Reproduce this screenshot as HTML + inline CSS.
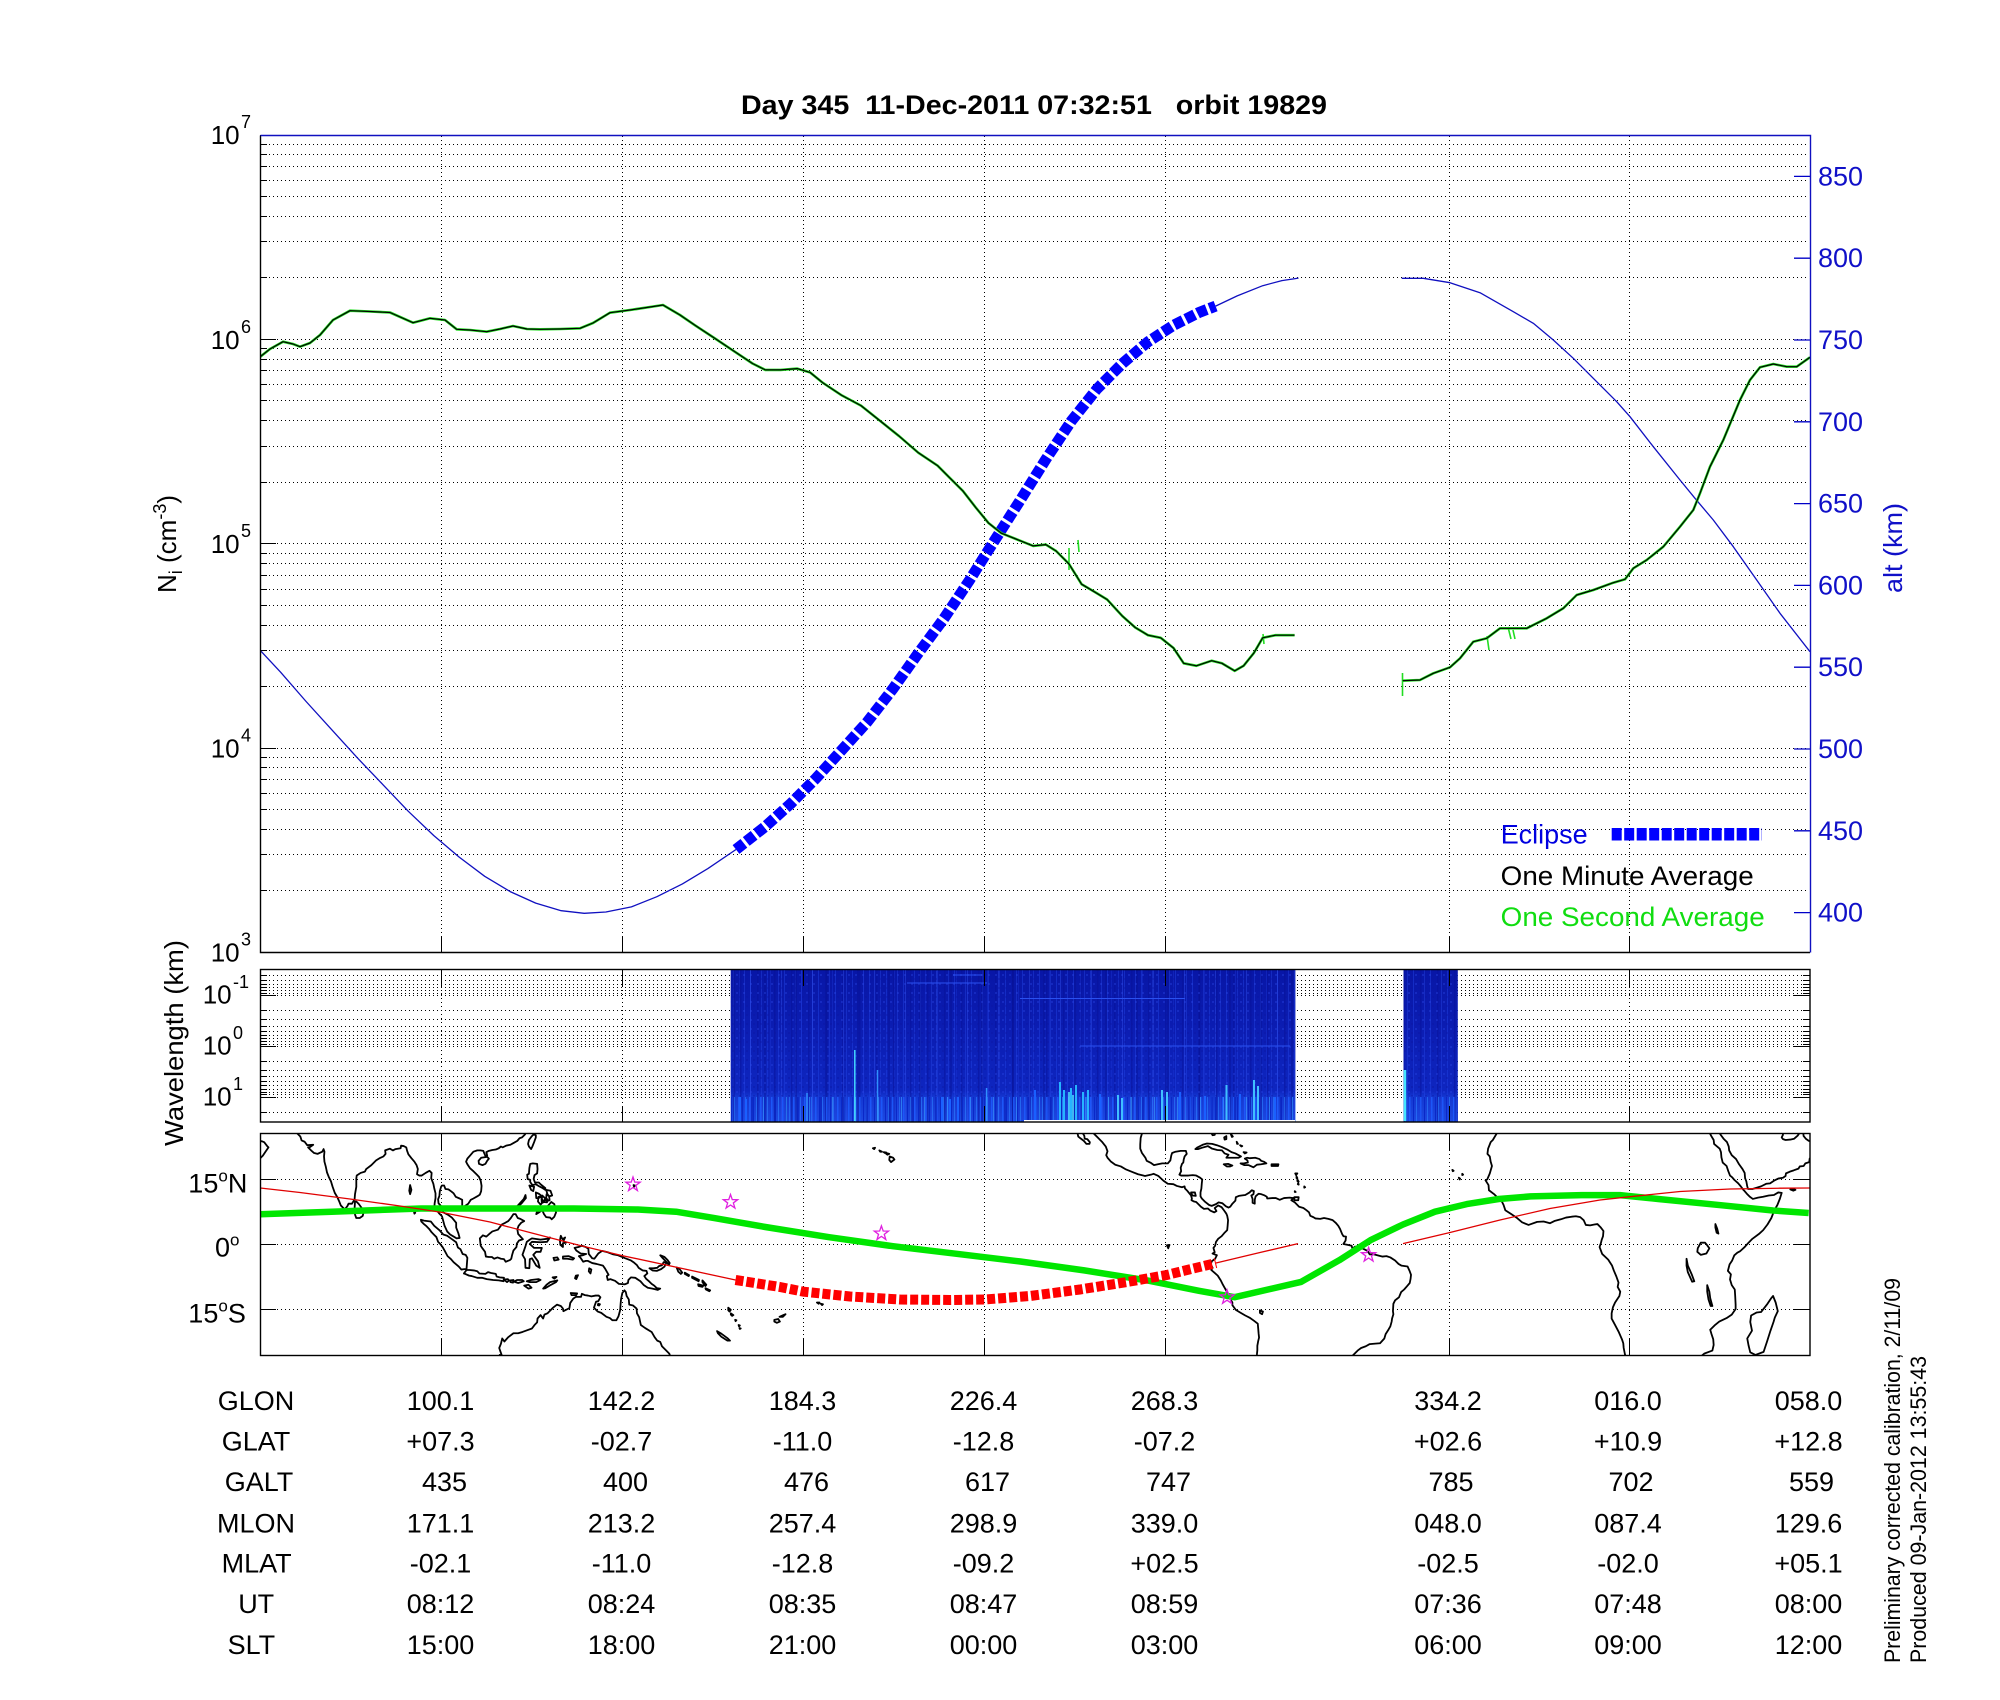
<!DOCTYPE html>
<html><head><meta charset="utf-8"><style>
html,body{margin:0;padding:0;background:#fff;}
svg{display:block;}
text{font-family:"Liberation Sans",Arial,sans-serif;}
.coast path{vector-effect:non-scaling-stroke;}
</style></head><body>
<svg width="2000" height="1700" viewBox="0 0 2000 1700" xmlns="http://www.w3.org/2000/svg">
<defs>
<clipPath id="mainclip"><rect x="260.5" y="135.5" width="1549.5" height="817"/></clipPath>
<clipPath id="mapclip"><rect x="261" y="1134" width="1548.5" height="221"/></clipPath>
<linearGradient id="sg" x1="0" y1="0" x2="0" y2="1">
<stop offset="0" stop-color="#0816a6"/><stop offset="0.45" stop-color="#0c1eb4"/><stop offset="0.8" stop-color="#0e26c0"/><stop offset="0.84" stop-color="#1438d2"/><stop offset="1" stop-color="#1c48e0"/>
</linearGradient>
<pattern id="p1" width="17" height="200" patternUnits="userSpaceOnUse"><rect x="2" width="1" height="200" fill="#2040e0" opacity=".5"/><rect x="9" width="1.5" height="200" fill="#061098" opacity=".45"/><rect x="13" width="1" height="200" fill="#2a4cec" opacity=".35"/></pattern>
<pattern id="p2" width="31" height="200" patternUnits="userSpaceOnUse"><rect x="6" width="1" height="200" fill="#3456f2" opacity=".4"/><rect x="20" width="2" height="200" fill="#060e90" opacity=".35"/><rect x="26" width="1" height="200" fill="#1c34d4" opacity=".4"/></pattern>
<pattern id="p5" width="7" height="9" patternUnits="userSpaceOnUse"><rect x="1" y="2" width="2" height="2" fill="#2a48e6" opacity=".35"/><rect x="4" y="6" width="2" height="2" fill="#0a14a0" opacity=".35"/></pattern>
<pattern id="p3" width="11" height="40" patternUnits="userSpaceOnUse"><rect x="1" width="1.5" height="40" fill="#1e5cff" opacity=".8"/><rect x="5" width="1" height="40" fill="#0a28c8"/><rect x="8" width="1" height="40" fill="#2c80ff" opacity=".6"/></pattern>
<pattern id="p4" width="23" height="40" patternUnits="userSpaceOnUse"><rect x="4" width="1" height="40" fill="#3aa0ff" opacity=".6"/><rect x="15" width="2" height="40" fill="#0c24c0" opacity=".7"/></pattern>
</defs>
<rect width="2000" height="1700" fill="#fff"/>

<!-- Title -->
<text x="741" y="114" font-size="27" font-weight="bold" style="white-space:pre" xml:space="preserve" textLength="586" lengthAdjust="spacingAndGlyphs">Day 345  11-Dec-2011 07:32:51   orbit 19829</text>

<!-- ===== MAIN PLOT ===== -->
<g stroke="#000" stroke-width="1" stroke-dasharray="1 3" shape-rendering="crispEdges" fill="none">
<path d="M261 144.5H1809M261 154.5H1809M261 166.5H1809M261 180.5H1809M261 196.5H1809M261 216.5H1809M261 241.5H1809M261 277.5H1809M261 339.5H1809M261 348.5H1809M261 359.5H1809M261 370.5H1809M261 384.5H1809M261 400.5H1809M261 420.5H1809M261 446.5H1809M261 482.5H1809M261 543.5H1809M261 553.5H1809M261 563.5H1809M261 575.5H1809M261 589.5H1809M261 605.5H1809M261 625.5H1809M261 650.5H1809M261 686.5H1809M261 748.5H1809M261 757.5H1809M261 767.5H1809M261 779.5H1809M261 793.5H1809M261 809.5H1809M261 829.5H1809M261 854.5H1809M261 890.5H1809"/>
<path d="M441.5 136V952M622.5 136V952M803.5 136V952M984.5 136V952M1165.5 136V952M1449.5 136V952M1629.5 136V952"/>
</g>
<!-- left ticks -->
<g stroke="#000" stroke-width="1.2" shape-rendering="crispEdges" fill="none">
<path d="M260 144.5h7M260 154.5h7M260 166.5h7M260 180.5h7M260 196.5h7M260 216.5h7M260 241.5h7M260 277.5h7M260 348.5h7M260 359.5h7M260 370.5h7M260 384.5h7M260 400.5h7M260 420.5h7M260 446.5h7M260 482.5h7M260 553.5h7M260 563.5h7M260 575.5h7M260 589.5h7M260 605.5h7M260 625.5h7M260 650.5h7M260 686.5h7M260 757.5h7M260 767.5h7M260 779.5h7M260 793.5h7M260 809.5h7M260 829.5h7M260 854.5h7M260 890.5h7"/>
<path d="M260 135.5h16M260 339.5h16M260 543.5h16M260 748.5h16"/>
<path d="M441.5 952V936M622.5 952V936M803.5 952V936M984.5 952V936M1165.5 952V936M1449.5 952V936M1629.5 952V936"/>
</g>
<!-- right alt ticks -->
<g stroke="#0000c8" stroke-width="1.3" fill="none">
<path d="M1810 176.4h-16M1810 258.2h-16M1810 340h-16M1810 421.8h-16M1810 503.6h-16M1810 585.4h-16M1810 667.2h-16M1810 749h-16M1810 830.8h-16M1810 912.6h-16"/>
</g>

<g clip-path="url(#mainclip)" fill="none" stroke-linejoin="round">
<!-- altitude thin blue -->
<polyline stroke="#1010c0" stroke-width="1.3" points="260.3,650.5 280.6,672.2 306.1,701.5 331.6,729.6 357.1,757.6 382.7,784.4 408.2,811.2 433.7,835.5 459.2,857.1 484.7,876.3 510.2,891.6 535.7,903.1 561.2,910.7 584.2,913.3 605.9,912 631.4,906.9 656.9,896.7 682.4,883.9 707.9,868.6 736,849.5"/>
<polyline stroke="#1010c0" stroke-width="1.3" points="1215.6,306.1 1237.2,295.9 1262.7,285.7 1281.9,280.6 1298.5,278.1"/>
<polyline stroke="#1010c0" stroke-width="1.3" points="1401.7,278.3 1423.3,278.3 1450,282.7 1480,292.7 1513.3,311.7 1533.3,323.3 1553.3,340 1573.3,358.3 1596.7,381.7 1616.7,401.7 1630,416.7 1653.3,446.7 1680,480 1695,498.3 1713.3,520 1733.3,546.7 1756.7,580 1780,613.3 1810,651.7"/>
<!-- eclipse -->
<polyline stroke="#0000ff" stroke-width="11" stroke-dasharray="10 3" stroke-linejoin="miter" points="736,849.5 765.3,826.5 790.8,803.6 816.3,778 841.8,750 867.3,721.9 892.9,688.8 918.4,653 943.9,618.6 969.4,580.4 988.5,550 1020.4,500 1045.9,459.2 1071.4,420.9 1096.9,389 1122.4,363.5 1148,341.8 1173.5,325.3 1199,312.5 1215.6,306.1"/>
<!-- one second (green) -->
<g stroke="#22dd22" stroke-width="2.6">
<polyline points="260.3,356.7 270,349 283,341.7 293,344 300,346.7 310,343 320,335 333,320 350,310.7 370,311.5 390,312.5 413,322.7 430,318.3 445,320 456.7,329.3 470,330 486.7,331.7 500,329 513,326 527,329 540,329.3 560,329 580,328.3 593,323 610,312.7 630,310 650,307 663,305 680,315 695,325.3 714.3,338 733.4,350.8 752.5,363.5 765.3,369.9 780.6,369.9 797.2,368.6 810,372.4 822.7,382.7 841.8,395.4 861,405.6 880.1,420.9 899.2,436.2 918.4,452.8 937.5,465.6 950.2,478.3 963,491.1 975.8,507.6 988.5,523 1001.3,533.2 1020.4,540.8 1033.2,545.9 1045.9,544.6 1056.1,551 1068.9,563.8 1081.6,584.2 1094.4,591.8 1107.1,599.5 1122.4,616.1 1135.2,627.5 1148,635.2 1160.7,637.8 1173.5,648 1183.7,663.3 1196.4,665.8 1211.7,660.7 1221.9,663.3 1234.7,670.9 1243.6,665.8 1253.8,653.1 1262.7,637.8 1275.5,635.2 1294.6,635.2"/>
<polyline points="1402.7,680.7 1420,680 1433.3,673.3 1450,667.3 1460,658.3 1473.3,641.7 1486.7,638.3 1500,628.3 1513.3,628.3 1526.7,628.3 1546.7,618.3 1563.3,608.3 1576.7,595 1593.3,590 1613.3,582.7 1625,579.3 1633.3,568.3 1646.7,560 1663.3,546.7 1680,526.7 1693.3,510 1700,493.3 1710,466.7 1723.3,440 1740,400 1750,380 1760,367.3 1773.3,364 1786.7,366.7 1796.7,366.7 1810,357.3"/>
<path stroke-width="1.6" d="M1402.5 673V696M1487 636l2 14M1508 627l3 12M1513 630l2 9M1069 548V570M1263 634l1 10M1078 540l1 12"/>
</g>
<!-- one minute (black) -->
<g stroke="#000" stroke-width="1.2">
<polyline points="260.3,356.7 270,349 283,341.7 293,344 300,346.7 310,343 320,335 333,320 350,310.7 370,311.5 390,312.5 413,322.7 430,318.3 445,320 456.7,329.3 470,330 486.7,331.7 500,329 513,326 527,329 540,329.3 560,329 580,328.3 593,323 610,312.7 630,310 650,307 663,305 680,315 695,325.3 714.3,338 733.4,350.8 752.5,363.5 765.3,369.9 780.6,369.9 797.2,368.6 810,372.4 822.7,382.7 841.8,395.4 861,405.6 880.1,420.9 899.2,436.2 918.4,452.8 937.5,465.6 950.2,478.3 963,491.1 975.8,507.6 988.5,523 1001.3,533.2 1020.4,540.8 1033.2,545.9 1045.9,544.6 1056.1,551 1068.9,563.8 1081.6,584.2 1094.4,591.8 1107.1,599.5 1122.4,616.1 1135.2,627.5 1148,635.2 1160.7,637.8 1173.5,648 1183.7,663.3 1196.4,665.8 1211.7,660.7 1221.9,663.3 1234.7,670.9 1243.6,665.8 1253.8,653.1 1262.7,637.8 1275.5,635.2 1294.6,635.2"/>
<polyline points="1402.7,680.7 1420,680 1433.3,673.3 1450,667.3 1460,658.3 1473.3,641.7 1486.7,638.3 1500,628.3 1513.3,628.3 1526.7,628.3 1546.7,618.3 1563.3,608.3 1576.7,595 1593.3,590 1613.3,582.7 1625,579.3 1633.3,568.3 1646.7,560 1663.3,546.7 1680,526.7 1693.3,510 1700,493.3 1710,466.7 1723.3,440 1740,400 1750,380 1760,367.3 1773.3,364 1786.7,366.7 1796.7,366.7 1810,357.3"/>
</g>
</g>

<!-- main frame -->
<path d="M260.5 135.5V952.5H1810" stroke="#000" stroke-width="1.4" fill="none"/>
<path d="M260.5 135.5H1810.5V952.5" stroke="#1010c0" stroke-width="1.4" fill="none"/>

<!-- left tick labels -->
<g font-size="26" fill="#000">
<text x="210.7" y="144">10</text><text x="241" y="128" font-size="18">7</text>
<text x="210.7" y="349">10</text><text x="241" y="333" font-size="18">6</text>
<text x="210.7" y="553">10</text><text x="241" y="537" font-size="18">5</text>
<text x="210.7" y="757.5">10</text><text x="241" y="741.5" font-size="18">4</text>
<text x="210.7" y="961.5">10</text><text x="241" y="945.5" font-size="18">3</text>
</g>
<!-- right alt labels -->
<g font-size="27" fill="#1010c8">
<text x="1818" y="185.4">850</text><text x="1818" y="267.2">800</text><text x="1818" y="349">750</text><text x="1818" y="430.8">700</text><text x="1818" y="512.6">650</text><text x="1818" y="594.4">600</text><text x="1818" y="676.2">550</text><text x="1818" y="758">500</text><text x="1818" y="839.8">450</text><text x="1818" y="921.6">400</text>
</g>
<text transform="translate(1902,548) rotate(-90)" text-anchor="middle" font-size="26" fill="#1010c8" textLength="90" lengthAdjust="spacingAndGlyphs">alt (km)</text>
<text transform="translate(176,593) rotate(-90)" font-size="26" fill="#000">N<tspan font-size="18" dy="6">i</tspan><tspan dy="-6"> (cm</tspan><tspan font-size="18" dy="-10">-3</tspan><tspan dy="10">)</tspan></text>

<!-- legend -->
<text x="1500.7" y="843.3" font-size="27" fill="#0000e0" textLength="87" lengthAdjust="spacingAndGlyphs">Eclipse</text>
<path d="M1611.7 834.3H1762" stroke="#0000ff" stroke-width="12.5" stroke-dasharray="10 2.5"/>
<text x="1500.7" y="885" font-size="27" fill="#000" textLength="253" lengthAdjust="spacingAndGlyphs">One Minute Average</text>
<text x="1500.7" y="926" font-size="27" fill="#11dd11" textLength="264" lengthAdjust="spacingAndGlyphs">One Second Average</text>

<!-- ===== WAVELENGTH PANEL ===== -->
<g stroke="#000" stroke-width="1" stroke-dasharray="1 3" shape-rendering="crispEdges" fill="none">
<path d="M261 975.5H1809M261 980.5H1809M261 984.5H1809M261 987.5H1809M261 990.5H1809M261 993.5H1809M261 995.5H1809M261 1010.5H1809M261 1019.5H1809M261 1026.5H1809M261 1031.5H1809M261 1035.5H1809M261 1038.5H1809M261 1041.5H1809M261 1044.5H1809M261 1046.5H1809M261 1061.5H1809M261 1070.5H1809M261 1076.5H1809M261 1081.5H1809M261 1085.5H1809M261 1089.5H1809M261 1092.5H1809M261 1094.5H1809M261 1097.5H1809M261 1112.5H1809"/>
<path d="M441.5 970V1121M622.5 970V1121M803.5 970V1121M984.5 970V1121M1165.5 970V1121M1449.5 970V1121M1629.5 970V1121"/>
</g>
<!-- spectrogram block 1 -->
<rect x="730.7" y="969.5" width="564.7" height="152" fill="url(#sg)"/>
<rect x="730.7" y="969.5" width="564.7" height="152" fill="url(#p1)"/>
<rect x="730.7" y="969.5" width="564.7" height="152" fill="url(#p2)"/>
<rect x="730.7" y="969.5" width="564.7" height="127" fill="url(#p5)"/>
<rect x="730.7" y="1097" width="564.7" height="24.5" fill="url(#p3)"/>
<rect x="730.7" y="1097" width="564.7" height="24.5" fill="url(#p4)"/>
<g stroke-width="1.5">
<path stroke="#44d8ff" d="M854.8 1050V1121"/>
<path stroke="#3090ff" d="M877.5 1070V1121M986.6 1088V1121M807 1093V1121"/>
<path stroke="#26b4ff" stroke-width="2" d="M1060 1082V1121M1064 1090V1121M1071 1088V1121M1076 1085V1121M1083 1092V1121M1088 1090V1121"/>
<path stroke="#50e4ff" d="M1069 1092V1121M1073 1095V1121"/>
<path stroke="#40c0ff" stroke-width="2" d="M1118 1095V1121M1122 1098V1121M1162 1090V1121M1167 1092V1121M1226.5 1085V1121M1254 1080V1121M1258 1086V1121"/>
<path stroke="#1a60ff" stroke-width="2" d="M740 1097V1121M746 1099V1121M942 1097V1121M950 1099V1121M958 1097V1121M1035 1090V1121M1100 1094V1121M1180 1092V1121M1205 1096V1121M1240 1094V1121M1275 1097V1121"/>
<path stroke="#2a50f0" stroke-width="1" d="M953 975H982M907 983H987M1020 998.5H1185M1080 1046H1290"/>
</g>
<rect x="1024" y="1120" width="271" height="1.8" fill="#fff"/>
<!-- spectrogram block 2 -->
<rect x="1403.5" y="969.5" width="54.3" height="152" fill="url(#sg)"/>
<rect x="1403.5" y="969.5" width="54.3" height="152" fill="url(#p1)"/>
<rect x="1403.5" y="969.5" width="54.3" height="127" fill="url(#p5)"/>
<rect x="1403.5" y="1097" width="54.3" height="24.5" fill="url(#p3)"/>
<path stroke="#44e4ff" stroke-width="2.5" d="M1405 1070V1121"/>
<!-- ticks wavelength -->
<g stroke="#000" stroke-width="1.2" shape-rendering="crispEdges" fill="none">
<path d="M260 975.5h7M260 980.5h7M260 984.5h7M260 987.5h7M260 990.5h7M260 993.5h7M260 1010.5h7M260 1019.5h7M260 1026.5h7M260 1031.5h7M260 1035.5h7M260 1038.5h7M260 1041.5h7M260 1044.5h7M260 1061.5h7M260 1070.5h7M260 1076.5h7M260 1081.5h7M260 1085.5h7M260 1089.5h7M260 1092.5h7M260 1094.5h7M260 1112.5h7M260 995.5h16M260 1046.5h16M260 1097.5h16"/>
<path d="M1810 975.5h-7M1810 980.5h-7M1810 984.5h-7M1810 987.5h-7M1810 990.5h-7M1810 993.5h-7M1810 1010.5h-7M1810 1019.5h-7M1810 1026.5h-7M1810 1031.5h-7M1810 1035.5h-7M1810 1038.5h-7M1810 1041.5h-7M1810 1044.5h-7M1810 1061.5h-7M1810 1070.5h-7M1810 1076.5h-7M1810 1081.5h-7M1810 1085.5h-7M1810 1089.5h-7M1810 1092.5h-7M1810 1094.5h-7M1810 1112.5h-7M1810 995.5h-16M1810 1046.5h-16M1810 1097.5h-16"/>
<path d="M441.5 970v16M622.5 970v16M803.5 970v16M984.5 970v16M1165.5 970v16M1449.5 970v16M1629.5 970v16M441.5 1122v-16M622.5 1122v-16M803.5 1122v-16M984.5 1122v-16M1165.5 1122v-16M1449.5 1122v-16M1629.5 1122v-16"/>
</g>
<rect x="260.5" y="969.5" width="1549.5" height="152.5" fill="none" stroke="#000" stroke-width="1.4"/>
<g font-size="26" fill="#000">
<text x="202.7" y="1003.5">10</text><text x="233" y="988" font-size="18">-1</text>
<text x="202.7" y="1054.5">10</text><text x="233" y="1039" font-size="18">0</text>
<text x="202.7" y="1105.5">10</text><text x="233" y="1090" font-size="18">1</text>
</g>
<text transform="translate(183,1043) rotate(-90)" text-anchor="middle" font-size="26" fill="#000" textLength="206" lengthAdjust="spacingAndGlyphs">Wavelength (km)</text>

<!-- ===== MAP PANEL ===== -->
<g stroke="#000" stroke-width="1" stroke-dasharray="1 3" shape-rendering="crispEdges" fill="none">
<path d="M261 1179.5H1809M261 1244.5H1809M261 1309.5H1809"/>
<path d="M441.5 1134V1355M622.5 1134V1355M803.5 1134V1355M984.5 1134V1355M1165.5 1134V1355M1449.5 1134V1355M1629.5 1134V1355"/>
</g>
<g clip-path="url(#mapclip)">
<g transform="matrix(4.305 0 0 -4.333 11.04 1244)" fill="none" stroke="#000" stroke-width="1.8" stroke-linejoin="round" class="coast">
<g id="cst">
<path d="M-14.4 26.5 -14.9 25.5 -15.8 24 -16.3 23.5 -16.9 22 -17.05 20.8 -16.5 20.2 -16.3 19 -16 18 -16.5 16.3 -17.1 14.9 -17.5 14.7 -16.8 13.6 -16.7 12.4 -15.5 11.5 -14.7 10.7 -13.7 9.8 -13.3 9 -12.9 7.8 -11.5 6.9 -10.3 6.1 -9 5 -7.5 4.4 -5.5 5.1 -4 5.2 -2.5 4.8 -1.5 5.3 0 5.7 1.2 6.1 2.5 6.3 3.5 6.4 4.5 6.2 5.3 5.5 5.8 4.4 6.8 4.3 7.8 4.5 8.5 4.6 9.2 3.9 9.9 3 9.8 1.8 9.5 1 9.3 0.2 9 -0.7 9.6 -2.3 11 -3.6 11.9 -5 12.3 -6.1 12.9 -7.5 13.4 -8.9 13.2 -9.9 13.8 -11 13.6 -12 12.6 -13.5 12.1 -14.6 11.8 -16 11.8 -17.2 12.5 -18.5 13.4 -20.2 14.2 -22 14.5 -22.9 14.6 -24 14.9 -25.5 15.2 -26.7 15.3 -27.5"/>
<path d="M32.8 -27 32.9 -26.2 32.6 -25.9 33.3 -25.3 35.2 -24.6 35.5 -23.3 35.4 -22 35 -20.8 34.7 -19.8 35.7 -18.8 36.8 -17.9 38.5 -17.1 39.7 -16.3 40.6 -15 40.6 -14 40.5 -12 40.4 -10.5 39.7 -9.5 39.3 -8.2 39.5 -7 38.8 -6.2 39.2 -4.7 39.8 -3.8 40.3 -2.6 41 -2 41.6 -1.7 42.6 -0.8 43.6 0.3 44.5 1.2 46 2.3 47 3.2 48 4.5 48.9 6 49.6 7.8 50.3 9 50.9 10.5 51.3 11.8 50.5 11.9 49.5 11.3 48.3 11.2 47 10.9 45.8 10.7 44.6 10.4 43.9 10.9 43.2 11.6 42.7 12.2 42.4 12.5 41.8 13.3 41.2 14 40.3 14.8 39.8 15.4 39.3 15.8 38.9 16.8 38.5 18 37.6 18.8 37.3 20 37.2 21.2 36.9 22 35.6 23.1 35.5 24 34.9 25 34.4 26 33.9 27"/>
<path d="M35 28 35.5 27.5 36.6 26 37.2 25.1 37.8 24.3 38.6 23.5 39 22.5 39.1 21.6 39.7 20.5 40.7 19.6 41.4 18.4 42.2 17.3 42.7 16.4 42.8 15.2 43.1 14.4 43.3 13.3 43.5 12.7 44.5 12.7 45.2 12.9 46.5 13.3 47.7 13.9 48.6 14 49.5 14.6 50.5 15.1 51.6 15.3 52.2 15.7 52.3 16.3 53.2 16.7 54.1 17 55.2 17.4 55.5 17.9 56.4 18 56.8 18.6 57.7 18.9 57.8 19.7 58.5 20.4 59.1 21.3 59.8 22.3 59.5 22.6 58.8 23.5 58.3 23.7 57.6 23.8 56.9 24.3 56.4 24.9 56.3 25.6 56.1 26.3M55.7 26 55 25 54.2 24.3 53.3 24.1 52.2 24 51.6 24.2 51.3 24.6 51.6 25.2 51.5 25.9 51.2 26.2"/>
<path d="M53.3 12.6 54.2 12.7 54.5 12.5 54 12.3Z"/>
<path d="M49.3 -12 49.9 -13.5 50.4 -15.5 49.7 -17 49.4 -18 48.7 -20 47.9 -22.5 47.1 -24.9 45.2 -25.6 44 -25 43.6 -23.4 43.3 -21.8 44.4 -20 44 -18 44.2 -16.5 45.5 -15.8 46.5 -15.7 47.3 -14.7 48 -13.8 48.8 -12.6Z"/>
<path d="M31.8 -1 32.5 0.3 33.5 0.3 34 -0.3 34.5 -1 33.8 -2.2 32.5 -2.5 31.7 -1.8ZM29.2 -3.4 29.5 -5 30.4 -7 31 -8.6 30.5 -8.7 29.5 -6.5 29.2 -5ZM34 -9.5 34.5 -11 34.7 -12.5 35.2 -14.3 34.8 -14.3 34.3 -12.8 34 -11ZM35.9 4.6 36.3 3.6 36.6 2.4 36.2 2.6 35.9 3.8Z"/>
<path d="M-23.7 15.3 -23.4 15.1 -23.5 14.9ZM-25.2 17.1 -24.9 16.9 -25.1 16.8ZM-22.9 16.2 -22.7 16 -22.9 15.9Z"/>
<path d="M66.5 25.5 67.2 24.8 67.5 23.9 68.2 23.6 68.8 22.8 70.2 22.9 69.5 22.4 69 22.3 69.7 21.6 70.4 21 71.2 20.8 72.3 21.3 72.6 21.9 72.8 21.3 72.7 20.2 72.8 19 73.1 17.9 73.4 16.5 73.8 15.5 74.3 14.5 74.7 13.2 75.2 11.8 75.8 10.8 76.2 9.9 76.6 8.9 77.3 8.2 77.6 8.1 78.1 8.7 78.4 9.3 79.2 9.3 79.8 10.3 79.9 11.5 80.2 13.2 80.2 15.1 80.3 15.8 81.2 16.4 82.2 16.7 82.5 17.3 83.7 18.2 84.8 19.3 85.6 19.8 86.5 20.2 87 20.8 86.9 21.6 88 22 88.7 21.6 89.3 21.9 90.5 22.1 90.6 22.7 91.2 22.6 91.8 22.3 92 21.5 92.3 20.7 93 19.8 93.7 19 94.2 18.2 94.5 17.3 94.3 16.1 94.8 15.8 95.4 15.8 96.3 16.4 97.2 16.9 97.7 16.4 97.6 15.2 98.1 13.9 98.3 12.9 98.6 11.7 98.6 10.6 98.4 9.4 98.3 8.2 98.8 7.9 99.5 7 100.1 6.4 100.4 5.3 100.7 4.2 101.3 2.9 102 2.2 103 1.6 103.5 1.3 104.2 1.4 103.9 2.5 103.4 3.8 103.4 4.9 102.4 6.1 101.4 6.8 100.4 7.3 100.1 8.5 99.3 9.4 99.2 10.3 99.5 11.1 99.6 12.2 99.9 13.2 100.1 13.5 100.6 13.5 100.9 12.7 101.6 12.6 102.3 12.1 102.8 11.7 103.3 10.9 104.2 10.5 104.8 10.2 104.8 8.8 105.2 8.6 106.2 9.3 106.8 10.2 107.4 10.5 108.3 11 108.9 11.4 109.2 12.2 109.3 13.4 109.1 14.6 108.7 15.5 108.2 16 107.4 16.8 106.6 17.5 106 18.4 105.7 19 106 19.7 106.7 20.5 107.4 21.3 108.3 21.6 109 21.6 109.7 21.5 109.9 21 110.2 20.3 110.6 20.4 110.4 21.2 111 21.5 111.8 21.7 112.6 21.8 113.3 22.1 113.8 22.5 114.2 22.3 115 22.7 116 22.9 116.7 23.3 117.6 23.8 118.1 24.4 118.7 24.6 119.4 25.3 119.7 26.2"/>
<path d="M79.9 9.8 79.8 8.2 79.9 6.8 80.2 6 81 6 81.7 6.5 81.9 7.4 81.4 8.4 80.8 9.2 80.2 9.8Z"/>
<path d="M108.6 19.2 108.7 18.5 109.5 18.2 110.2 18.5 110.6 19.2 111 19.7 110.6 20.1 109.8 20 109.2 19.9Z"/>
<path d="M120.1 23.1 120.3 22.5 120.8 21.9 121.1 22.5 121.5 23.5 121.9 24.6 121.9 25.1 121.4 25.3 120.9 24.8 120.3 24Z"/>
<path d="M92.7 13.6 93 12.5 92.7 11.5 92.5 12.3ZM93.5 8 93.9 7.2 93.7 7Z"/>
<path d="M95.2 5.6 95.9 5.4 97.5 5.2 98.3 4.2 99.5 3.2 100.4 2.2 101.3 1.9 102.3 1.2 103.4 0.4 103.8 -0.8 104.4 -1.2 104.9 -2.3 105.6 -2.5 106 -3.2 105.9 -4.5 105.8 -5.8 105.3 -5.8 104.6 -5.9 104 -5.2 102.8 -4.2 102.2 -3.5 101.4 -2.8 100.8 -1.7 100.3 -0.8 99.7 0 99.2 0.5 98.8 1.6 98.2 2.2 97.7 2.7 97.1 3.5 96.4 4.2 95.8 4.7 95.3 5.2Z"/>
<path d="M105.2 -6.8 105.8 -6 106.5 -6 107.5 -6.1 108.3 -6.3 108.8 -6.8 110.2 -6.9 110.8 -6.5 111.5 -6.7 112.6 -6.9 112.8 -7.5 113.5 -7.7 114.5 -7.8 114.4 -8.6 113.3 -8.4 112 -8.3 110.5 -8.1 109.4 -7.8 108.3 -7.8 107 -7.4 106.4 -7.3 105.5 -6.9Z"/>
<path d="M114.5 -8.2 115.4 -8.1 115.7 -8.4 115.2 -8.8ZM116 -8.4 116.7 -8.3 116.6 -8.9 116 -8.8ZM116.8 -8.7 117.6 -8.3 118.7 -8.3 119.1 -8.6 118.5 -8.8 117.8 -9ZM119.8 -8.6 120.8 -8.3 122.5 -8.1 123 -8.3 122 -8.8 120.5 -8.8ZM119.2 -9.6 120.2 -9.4 120.9 -10.1 120.2 -10.3ZM123.6 -10.3 124.4 -9.4 125.2 -8.8 126.9 -8.4 126.6 -8.8 125.1 -9.6 124.1 -10.2ZM125.8 -7.7 126.7 -7.6 126.2 -8Z"/>
<path d="M119.5 -5.5 119.4 -3.5 118.8 -2.5 119.5 -0.5 119.8 0.5 120.5 1 121 1.3 123 1 124.5 1.2 125.2 1.5 124.5 0.5 123 0.4 121 0.5 120.5 0 121.5 -0.9 123.3 -0.9 123 -1.8 122 -1.8 121.3 -2.5 122.4 -4 122.8 -5.5 122 -5 121 -3.3 120.5 -3.5 120.4 -5.6Z"/>
<path d="M127.7 1.9 128.1 1.1 128.7 1.5 128.3 0.7 128.9 0.3 128.2 0.2 128.2 -0.7 127.6 -0.2 127.5 0.8ZM128.2 -2.9 129.5 -2.8 130.8 -3.3 130.5 -3.6 129.2 -3.4 128.2 -3.4ZM126 -3.2 126.9 -3.1 127.2 -3.6 126.2 -3.8ZM134.3 -5.6 134.8 -5.9 134.6 -6.8 134.2 -6.3ZM131.2 -7.3 131.7 -7.2 131.3 -8.1 131 -7.9Z"/>
<path d="M108.9 1.3 109.6 2 110.4 1.7 111.2 2.4 111.8 2.9 113.1 3.3 114 4.5 114.8 4.9 115.5 5.3 116.1 6 116.7 6.9 117.2 6.9 117.7 6 118.3 5.8 119.2 5.3 118.5 4.9 117.9 4.2 117.6 3.4 117.8 2.3 118.9 1.1 118 0.8 117.5 0.1 117.4 -0.7 116.7 -1.5 116.4 -2.5 116.2 -3.4 115.9 -3.7 114.9 -4.1 114.5 -3.5 113.8 -3.4 113 -3.1 112.2 -3.4 111.7 -3 111 -3 110.3 -2.9 110.1 -1.8 109.5 -1 109.1 -0.4 109 0.4Z"/>
<path d="M117.2 8.3 117.8 8.6 118.6 9.4 119.6 10.6 119.5 11.3 119.1 10.4 118.1 9.3Z"/>
<path d="M120.6 18.5 121.2 18.6 122.2 18.5 122.3 17.3 122.2 16.3 121.6 15.9 121.4 15 121.7 14.2 122.6 14.2 123.1 13.7 124.1 12.9 124.1 12.5 123.3 13 122.7 13.3 121.9 13.8 121.1 13.6 120.6 14.3 120.6 14.8 120 15 119.9 16 120.3 16.2 120.4 17.5Z"/>
<path d="M120.4 13.5 121.5 13.2 121.3 12.2 120.8 12.5ZM124.3 12.5 125.3 12.3 125.7 11.2 125 11 124.6 11.5ZM124.4 11.5 125 11 125.1 10.1 124.8 10 124.3 10.6ZM121.9 11.9 122.6 11.6 123.1 11.2 122.5 10.5 122 10.6ZM122.5 10.9 123.2 10.8 123.3 9.4 123 9.1 122.4 9.8ZM123.4 11.2 124.1 10.5 123.6 9.6 123.3 10.5ZM123.8 10.1 124.5 10.1 124.5 9.6 123.8 9.7Z"/>
<path d="M122 6.9 122.2 7.6 123 7.6 123.6 8.3 124.2 8.2 124.8 8.9 125.5 9.7 126.2 9.2 126.4 8.2 126.6 7.3 126.2 6.3 125.6 5.7 125.2 6.1 124.3 6.2 123.8 6.9 123.4 7.8 122.8 7.4Z"/>
<path d="M130.9 -0.9 131.8 -0.7 132.6 -0.4 133.5 -0.7 134.1 -1.1 134.2 -2.3 135 -3.3 135.5 -3.4 136.4 -2.2 137.3 -1.6 138.6 -1.9 139.9 -2.4 141 -2.6 142.7 -3.3 144 -3.8 144.6 -4.2 145.4 -4.9 145.8 -5.5 146.7 -6.1 147.6 -6.2 147.8 -6.8 147.1 -7.4 147.5 -8 148.3 -8.7 148.8 -9.2 149.4 -9.6 150 -10.2 150.8 -10.3 150.2 -10.6 149 -10.3 147.9 -10.1 147 -9.5 146.2 -8.6 145 -7.8 144 -7.7 143.4 -8.3 143.3 -9 142.6 -9.3 141.2 -9.2 140.3 -8.5 139.2 -8.1 138.6 -8.3 138.4 -7.4 138.8 -7.1 138 -5.7 137.5 -5 136 -4.6 135 -4.4 134 -3.9 133.5 -3.9 132.9 -4.1 132.3 -3.2 131.9 -2.8 132.8 -2.6 133.6 -2.3 132.3 -2.2 131.3 -1.5Z"/>
<path d="M148.3 -5.6 149.2 -5.6 150.1 -5.5 150.5 -5.1 151.2 -4.9 151.6 -4.2 152.2 -4.3 151.8 -5.2 151 -5.8 150 -6.2 149 -6.1ZM150.8 -2.6 151.8 -3 152.5 -3.7 153 -4.4 152.8 -4.8 152.2 -4.1 151.4 -3.3ZM154.6 -5.4 155.3 -5.8 155.9 -6.6 155.6 -6.9 155 -6.4Z"/>
<path d="M156.5 -6.6 157.5 -7.2 157.4 -7.4 156.5 -6.9ZM158.2 -7.5 159.8 -8.3 159.7 -8.6 158.2 -7.8ZM159.6 -9.3 160.8 -9.6 160.6 -9.9 159.7 -9.7ZM160.6 -8.4 161.5 -9.4 161.3 -9.7 160.6 -8.8ZM161.3 -10.2 162.4 -10.7 162.2 -10.9 161.4 -10.5Z"/>
<path d="M166.6 -14.7 167.2 -15.2 166.9 -15.6 166.6 -15.3ZM167.2 -16 167.8 -16.4 167.5 -16.6 167.2 -16.3ZM168.2 -17.5 168.5 -17.6 168.3 -17.8ZM169 -18.7 169.3 -18.8 169.1 -19ZM169.2 -19.4 169.5 -19.5 169.3 -19.6Z"/>
<path d="M164 -20.1 165 -20.7 166.5 -21.8 167 -22.3 166.4 -22.3 165 -21.4 164.2 -20.6ZM177.3 -17.5 178.2 -17.3 178.6 -17.9 177.9 -18.2 177.3 -17.9ZM178.5 -16.8 179.4 -16.4 179.9 -16.2 179.3 -16.8ZM144.6 13.6 144.9 13.5 144.7 13.2ZM-172.8 -13.5 -172.2 -13.5 -172.4 -13.8ZM-171.9 -13.8 -171.4 -13.9 -171.6 -14.1Z"/>
<path d="M-155.9 20.2 -155.1 19.9 -154.8 19.5 -155.6 18.9 -156 19.4ZM-156.7 21 -156 20.8 -156.4 20.6 -156.7 20.8ZM-157.3 21.2 -156.7 21.1 -157 21ZM-158.3 21.6 -157.7 21.3 -158.1 21.3ZM-159.8 22.1 -159.3 22.2 -159.5 21.9Z"/>
<path d="M113.4 -26.5 113.5 -25.6 114.1 -26 113.6 -24.6 113.4 -24 113.8 -23 114.1 -21.8 114.6 -22.5 115.5 -21.5 116.7 -20.6 117.8 -20.6 118.8 -20.3 119.6 -20 121 -19.5 121.6 -18.7 122.2 -18.1 122.3 -17.2 123 -16.4 123.6 -17.2 123.9 -16.3 124.6 -16 125.2 -15.4 125.9 -14.7 126.8 -14 127.7 -14.3 128.2 -14.9 128.3 -15.5 129.3 -15 129.7 -14.8 129.9 -13.6 130.6 -12.6 131.2 -12.2 132.4 -12.2 132.6 -11.5 133.3 -11.8 134 -11.9 134.8 -12.1 135.8 -11.9 136.5 -11.9 136.9 -12.3 136.4 -13.2 135.9 -13.3 135.4 -14.7 136.3 -15.6 137.1 -15.9 138.3 -16.8 139.1 -17.1 139.7 -17.6 140.6 -17.6 141.1 -16.7 141.5 -15.2 141.6 -13.8 141.7 -12.7 142 -11.3 142.5 -10.7 142.8 -11.1 143 -12 143.5 -12.8 143.6 -14 144.5 -14.2 145.3 -14.9 145.4 -16 145.9 -16.9 146.3 -18.7 147.3 -19.4 148.8 -20.3 149.5 -21.5 150.1 -22.3 150.8 -22.6 151.2 -23.6 152.1 -24.5 152.9 -25.3 153.2 -26.1"/>
<path d="M130 -11.3 131.5 -11.4 131.3 -11.8 130.2 -11.8ZM136.4 -13.8 136.8 -13.9 136.6 -14.2 136.3 -14.1Z"/>
<path d="M-112.8 26.5 -112.3 25.7 -112.1 24.8 -111.6 24.4 -110.8 23.8 -110.2 23.1 -109.5 23.1 -109.4 23.5 -110 24.2 -110.6 24.3 -110.7 25 -111.2 25.8 -111.5 26.5"/>
<path d="M-109.3 26.5 -108.4 25.4 -107.6 24.6 -106.6 23.6 -105.7 22.5 -105.3 21.4 -105.6 20.5 -105.3 19.9 -104.5 19 -103.5 18.3 -102.2 17.9 -101 17.2 -99.5 16.6 -98.2 16.1 -96.6 15.7 -95.2 16 -94.6 16.2 -93.5 15.7 -92.3 14.6 -91.3 13.9 -90 13.8 -89.2 13.4 -88 13.1 -87.4 13.3 -87.3 12.8 -86.7 12.2 -85.9 11.2 -85.7 10.5 -85.8 10.1 -85.2 9.8 -84.7 9.7 -84 9 -83.6 8.6 -82.9 8.1 -82 8.2 -81.4 7.7 -80.5 7.3 -80 7.6 -80.4 8.3 -79.6 8.9 -78.8 8.5 -78.2 7.7 -77.7 7 -77.5 6.5 -77.3 5.5 -77.4 4.2 -77.5 3.2 -78.2 2.5 -78.8 1.8 -79.6 1.2 -80.1 0.5 -80.3 -0.4 -80.7 -0.9 -80.4 -1.9 -80.9 -2.2 -79.9 -2.6 -80.3 -3.4 -81.1 -4 -81.3 -4.7 -80.9 -5.5 -81.2 -6 -80.5 -6.6 -79.7 -7.3 -79 -8.4 -78.5 -9.4 -77.7 -10.8 -77.2 -12 -76.3 -13.5 -76.3 -14.1 -75.5 -15.2 -74.5 -15.8 -73.3 -16.5 -72.3 -17 -71.3 -17.7 -70.4 -18.4 -70.3 -19.5 -70.2 -20.7 -70.1 -21.6 -70.3 -22.4 -70.5 -23.5 -70.5 -24.5 -70.6 -25.5 -70.9 -27"/>
<path d="M-97.4 26.5 -97.3 25.5 -97.6 24.5 -97.7 23 -97.7 22 -97.3 21 -96.5 19.9 -96.2 19.2 -95.2 18.7 -94.5 18.2 -93.6 18.4 -92.6 18.6 -91.9 18.6 -91.3 18.6 -90.7 19.3 -90.5 20.4 -90.3 21 -89.5 21.3 -88.3 21.5 -87.1 21.5 -86.9 20.8 -87.4 20.2 -87.6 19.5 -87.7 18.8 -88 18.5 -88.3 17.6 -88.2 16.8 -88.6 16 -88.2 15.8 -87.5 15.8 -86.5 15.8 -85.5 15.9 -84.7 15.8 -83.8 15.3 -83.3 14.9 -83.4 14 -83.5 12.8 -83.7 11.9 -83.7 11 -83.4 10.5 -82.6 9.7 -81.7 9 -81.1 8.8 -80.1 9.2 -79.5 9.6 -78.6 9.4 -77.8 8.7 -77.2 8.4 -76.8 8.6 -76.3 9.3 -75.6 10 -75.5 10.8 -74.8 11.1 -74.2 11.2 -73.3 11.3 -72.3 11.9 -71.8 12.4 -71.3 12.2 -71.4 11.5 -71.9 11.2 -71.6 10.4 -71.6 9.5 -71.1 9.3 -71.1 10.2 -70.9 11 -70.2 11.6 -69.6 11.5 -68.8 11.2 -68.3 10.9 -68.2 10.5 -67 10.6 -66.2 10.6 -65.3 10.2 -64.3 10.6 -63 10.7 -62.3 10.6 -61.9 10.7 -62.6 10.1 -61.8 9.6 -60.8 8.6 -59.8 8.3 -59.1 7.8 -58.5 7.3 -58.2 6.5 -57.5 6.2 -57 5.9 -55.9 5.8 -55 6 -54 5.8 -53 5.5 -52.3 4.9 -51.7 4.2 -51.3 3.5 -50.8 2.3 -50.5 1.8 -49.9 1.7 -50 0.8 -50.5 0 -49.5 -0.2 -48.6 -0.4 -48.4 -1.1 -47.8 -0.6 -46.6 -0.8 -45.7 -1.2 -44.9 -1.6 -44.4 -2.4 -43.4 -2.4 -42.2 -2.7 -41.4 -2.9 -40.5 -2.8 -39.6 -3.1 -38.5 -3.8 -37.7 -4.6 -37 -5 -35.6 -5.2 -35.1 -6.3 -34.8 -7.1 -34.9 -8 -35.1 -9 -35.7 -9.7 -36.4 -10.5 -37.1 -11.1 -37.6 -12.3 -38.5 -13 -38.9 -13.8 -39 -15.5 -38.9 -16.2 -39.2 -17.2 -39.3 -17.9 -39.6 -19 -40 -19.7 -40.7 -20.8 -41 -21.8 -42 -22.9 -43.1 -23 -44.4 -23.1 -45.3 -23.6 -46.4 -24 -47.2 -24.6 -47.9 -25.3 -48.5 -25.9 -48.6 -27"/>
<path d="M-80.1 26.5 -80.4 25.2 -80.9 25.1 -81.3 25.8 -81.7 26.5"/>
<path d="M-84.9 21.9 -84.4 22.3 -83.2 22.9 -82.2 23.2 -81 23.1 -79.9 22.8 -78.8 22.4 -77.5 21.8 -76.5 21.2 -75.6 20.9 -74.3 20.2 -74.9 19.9 -76 19.9 -77.7 19.9 -77.2 20.6 -78.1 20.9 -78.7 21.6 -79.8 21.7 -81 22 -82 22.6 -83.4 22.2 -84.3 21.9Z"/>
<path d="M-74.4 18.6 -73.5 18.2 -72.5 18.2 -71.4 17.7 -70.6 18.3 -69.6 18.4 -68.4 18.6 -69 19 -69.6 19.2 -70 19.6 -71 19.9 -72.2 19.8 -72.9 19.9 -73.4 19.7 -72.8 19.3 -72.7 18.8 -73.6 18.6ZM-78.3 18.4 -77.3 18.5 -76.3 18.1 -76.8 17.9 -77.6 17.9ZM-67.2 18.4 -65.6 18.4 -65.7 18 -67.2 18Z"/>
<path d="M-78.2 24.6 -77.7 24.9 -77.7 24.2 -78.1 24.1ZM-76.7 25.5 -76.2 24.8 -76.4 24.7 -76.6 25.2ZM-75.3 23.6 -75 23.1 -75.2 23.1ZM-73.7 21.2 -73 21.1 -73.4 20.9ZM-74.5 22.8 -74 22.6 -74.2 22.5ZM-77.9 26.6 -77 26.5 -77.2 26.2ZM-61.7 16.3 -61.2 16.3 -61.5 15.9ZM-61.4 15.6 -61.2 15.2 -61.4 15.2ZM-61.2 14.9 -60.9 14.4 -61.2 14.5ZM-61 14.1 -60.9 13.7 -61.1 13.8ZM-59.6 13.3 -59.4 13.1 -59.6 13ZM-61.8 12.2 -61.6 12 -61.8 12ZM-61.9 10.8 -60.9 10.8 -61 10.1 -61.9 10.1ZM-85.9 11.9 -85 11.9 -84.8 11.1 -85.6 11.2ZM-91.5 -0.3 -90.9 -0.2 -91.2 -1ZM-69.9 -15.3 -69.2 -15.6 -69.4 -16.2 -69.9 -15.9Z"/>
</g>
<use href="#cst" transform="translate(360 0)"/>
</g>
</g>
<!-- dip equator (green) -->
<polyline fill="none" stroke="#00e600" stroke-width="6.5" stroke-linejoin="round" points="260.2,1214.3 331.6,1211.7 420.9,1208.5 510.2,1208.5 574,1208.5 637.8,1209.5 676,1211.7 714.3,1218.1 765.3,1227 829.1,1237.2 892.9,1246.2 956.6,1253.8 1020.4,1261.5 1084.2,1270.4 1148,1280.6 1199,1290.8 1234.7,1297.2 1301,1281.9 1339.3,1260.2 1371.2,1239.8 1403,1224.5 1435,1211.7 1466.8,1204.1 1498.7,1199 1530.6,1196.4 1581.6,1195.1 1619.9,1195.1 1658.2,1199 1722,1205.3 1773,1210.5 1808.7,1213"/>
<!-- ground track (red) -->
<g fill="none" stroke="#e00000" stroke-width="1.3">
<polyline points="260.3,1188 300,1192.5 350,1199 400,1206 441.7,1212.4 490,1222 532.7,1233.3 580,1245.5 622.7,1255.7 680,1268 735.5,1280"/>
<polyline points="1216,1263 1260,1252.5 1298,1243.6"/>
<polyline points="1403,1243.6 1449,1232.7 1500,1220 1550,1208.5 1600,1200 1629,1196.8 1680,1191.5 1730,1189 1780,1188.2 1810,1188"/>
</g>
<polyline fill="none" stroke="#ff0000" stroke-width="10" stroke-dasharray="8 3" points="735.5,1280 780,1287 803.6,1291.7 850,1296.5 900,1299.5 950,1300 984.7,1299.5 1030,1296 1080,1289.5 1130,1281.5 1165.8,1275.2 1216,1263"/>
<!-- stars -->
<g fill="none" stroke="#e020e0" stroke-width="1.3">
<polygon transform="translate(633,1184.5)" points="0,-7.5 1.76,-2.43 7.13,-2.32 2.85,0.93 4.41,6.07 0,3 -4.41,6.07 -2.85,0.93 -7.13,-2.32 -1.76,-2.43"/>
<polygon transform="translate(730.5,1202)" points="0,-7.5 1.76,-2.43 7.13,-2.32 2.85,0.93 4.41,6.07 0,3 -4.41,6.07 -2.85,0.93 -7.13,-2.32 -1.76,-2.43"/>
<polygon transform="translate(881.4,1233.4)" points="0,-7.5 1.76,-2.43 7.13,-2.32 2.85,0.93 4.41,6.07 0,3 -4.41,6.07 -2.85,0.93 -7.13,-2.32 -1.76,-2.43"/>
<polygon transform="translate(1227,1297.2)" points="0,-7.5 1.76,-2.43 7.13,-2.32 2.85,0.93 4.41,6.07 0,3 -4.41,6.07 -2.85,0.93 -7.13,-2.32 -1.76,-2.43"/>
<polygon transform="translate(1368.6,1255)" points="0,-7.5 1.76,-2.43 7.13,-2.32 2.85,0.93 4.41,6.07 0,3 -4.41,6.07 -2.85,0.93 -7.13,-2.32 -1.76,-2.43"/>
</g>
<!-- map ticks & frame -->
<g stroke="#000" stroke-width="1.2" shape-rendering="crispEdges" fill="none">
<path d="M260 1179.5h16M260 1244.5h16M260 1309.5h16M1810 1179.5h-16M1810 1244.5h-16M1810 1309.5h-16"/>
<path d="M441.5 1134v16M622.5 1134v16M803.5 1134v16M984.5 1134v16M1165.5 1134v16M1449.5 1134v16M1629.5 1134v16M441.5 1355v-16M622.5 1355v-16M803.5 1355v-16M984.5 1355v-16M1165.5 1355v-16M1449.5 1355v-16M1629.5 1355v-16"/>
</g>
<rect x="260.5" y="1133.5" width="1549.5" height="222" fill="none" stroke="#000" stroke-width="1.4"/>
<g font-size="27" fill="#000">
<text x="188.3" y="1192.7">15<tspan font-size="17" dy="-11">o</tspan><tspan dy="11">N</tspan></text>
<text x="215" y="1256.7">0<tspan font-size="17" dy="-11">o</tspan></text>
<text x="188.3" y="1322.7">15<tspan font-size="17" dy="-11">o</tspan><tspan dy="11">S</tspan></text>
</g>

<!-- ===== TABLE ===== -->
<g font-size="27" fill="#000" text-anchor="middle">
<text x="256" y="1410">GLON</text>
<text x="256" y="1450.5">GLAT</text>
<text x="259" y="1491">GALT</text>
<text x="256" y="1532.5">MLON</text>
<text x="256.6" y="1572.5">MLAT</text>
<text x="256.2" y="1613">UT</text>
<text x="251.4" y="1654">SLT</text>

<text x="440.5" y="1410">100.1</text><text x="621.5" y="1410">142.2</text><text x="802.5" y="1410">184.3</text><text x="983.5" y="1410">226.4</text><text x="1164.5" y="1410">268.3</text><text x="1448" y="1410">334.2</text><text x="1628" y="1410">016.0</text><text x="1808.5" y="1410">058.0</text>

<text x="440.5" y="1450.5">+07.3</text><text x="621.5" y="1450.5">-02.7</text><text x="802.5" y="1450.5">-11.0</text><text x="983.5" y="1450.5">-12.8</text><text x="1164.5" y="1450.5">-07.2</text><text x="1448" y="1450.5">+02.6</text><text x="1628" y="1450.5">+10.9</text><text x="1808.5" y="1450.5">+12.8</text>

<text x="444.5" y="1491">435</text><text x="625.5" y="1491">400</text><text x="806.5" y="1491">476</text><text x="987.5" y="1491">617</text><text x="1168.5" y="1491">747</text><text x="1451" y="1491">785</text><text x="1631" y="1491">702</text><text x="1811.5" y="1491">559</text>

<text x="440.5" y="1532.5">171.1</text><text x="621.5" y="1532.5">213.2</text><text x="802.5" y="1532.5">257.4</text><text x="983.5" y="1532.5">298.9</text><text x="1164.5" y="1532.5">339.0</text><text x="1448" y="1532.5">048.0</text><text x="1628" y="1532.5">087.4</text><text x="1808.5" y="1532.5">129.6</text>

<text x="440.5" y="1572.5">-02.1</text><text x="621.5" y="1572.5">-11.0</text><text x="802.5" y="1572.5">-12.8</text><text x="983.5" y="1572.5">-09.2</text><text x="1164.5" y="1572.5">+02.5</text><text x="1448" y="1572.5">-02.5</text><text x="1628" y="1572.5">-02.0</text><text x="1808.5" y="1572.5">+05.1</text>

<text x="440.5" y="1613">08:12</text><text x="621.5" y="1613">08:24</text><text x="802.5" y="1613">08:35</text><text x="983.5" y="1613">08:47</text><text x="1164.5" y="1613">08:59</text><text x="1448" y="1613">07:36</text><text x="1628" y="1613">07:48</text><text x="1808.5" y="1613">08:00</text>

<text x="440.5" y="1654">15:00</text><text x="621.5" y="1654">18:00</text><text x="802.5" y="1654">21:00</text><text x="983.5" y="1654">00:00</text><text x="1164.5" y="1654">03:00</text><text x="1448" y="1654">06:00</text><text x="1628" y="1654">09:00</text><text x="1808.5" y="1654">12:00</text>
</g>

<!-- side notes -->
<text transform="translate(1900,1663) rotate(-90)" font-size="22" fill="#000" textLength="385" lengthAdjust="spacingAndGlyphs">Preliminary corrected calibration, 2/11/09</text>
<text transform="translate(1926,1663) rotate(-90)" font-size="22" fill="#000" textLength="307" lengthAdjust="spacingAndGlyphs">Produced 09-Jan-2012 13:55:43</text>
</svg>
</body></html>
